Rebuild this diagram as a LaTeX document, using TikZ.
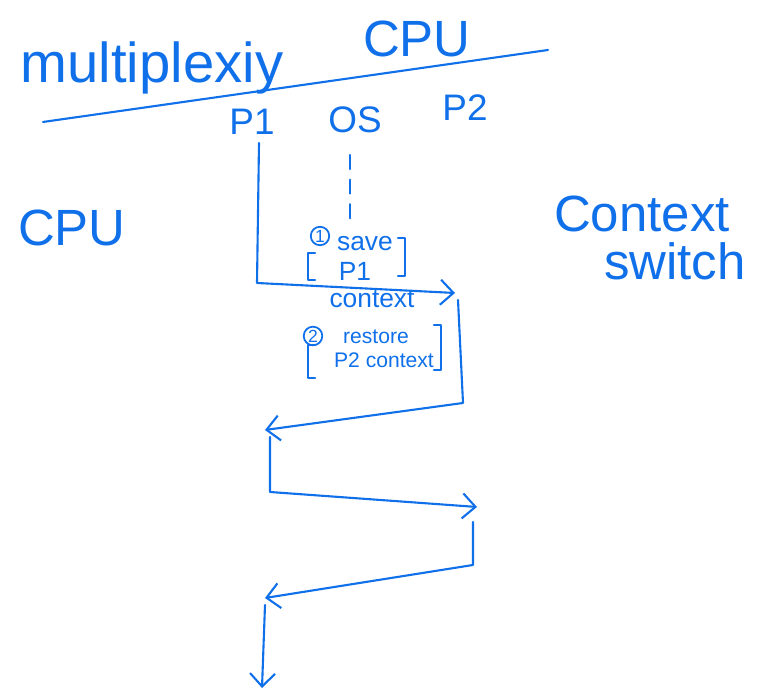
\documentclass[tikz,border=0pt]{standalone}
\usepackage{fontspec}
\setmainfont{Liberation Sans}
\usepackage{tkz-euclide}
\usetikzlibrary{arrows.meta,calc}
\definecolor{InkClr}{RGB}{16,112,234}

\begin{document}
\begin{tikzpicture}[ink/.style={line width=1.2pt,color=InkClr,line cap=round,line join=round},
  tip/.style={-{Straight Barb[length=2.6mm,width=5mm]}},
  big/.style={text=InkClr,font=\fontsize{29}{32}\selectfont},
  mid/.style={text=InkClr,font=\fontsize{21}{24}\selectfont},
  small/.style={text=InkClr,font=\fontsize{15}{17}\selectfont},
  tiny/.style={text=InkClr,font=\fontsize{12}{14}\selectfont,inner sep=1pt},
  num/.style={draw=InkClr,circle,line width=1pt,inner sep=0.6pt,text=InkClr,font=\fontsize{10}{12}\selectfont}]
\useasboundingbox (0,0) rectangle (15.18,13.84);

% points of the time line
\tkzDefPoints{0.86/11.40/L,10.96/12.84/R}
\tkzDefPoints{5.18/10.98/A,5.14/8.18/A1,9.10/7.98/B}
\tkzDefPoints{9.16/7.84/C,9.26/5.78/C1,5.30/5.24/D}
\tkzDefPoints{5.40/5.10/E,5.40/4.00/E1,9.54/3.70/F}
\tkzDefPoints{9.46/3.40/G,9.46/2.54/G1,5.30/1.88/H}
\tkzDefPoints{5.30/1.74/K,5.24/0.08/K1}
\tkzDefPoints{7.00/10.74/S,7.00/9.34/S1}

% headings
\node[big,font=\fontsize{32}{35}\selectfont] (mux) at (3.04,12.48) {multiplexiy};
\node[big] (cpu) at (8.34,13.06) {CPU};
\draw[ink] (L) -- (R);
\node[mid] (pone) at (5.04,11.40) {P1};
\node[mid] (os) at (7.10,11.44) {OS};
\node[mid] (ptwo) at (9.30,11.68) {P2};

\node[big] (cpuleft) at (1.44,9.28) {CPU};
\node[big] (ctx) at (12.84,9.56) {Context};
\node[big] (sw) at (13.50,8.62) {switch};

% switches
\draw[ink,tip] (A) -- (A1) -- (B);
\draw[ink,dashed,dash pattern=on 8pt off 6pt] (S) -- (S1);
\draw[ink,tip] (C) -- (C1) -- (D);
\draw[ink,tip] (E) -- (E1) -- (F);
\draw[ink,tip] (G) -- (G1) -- (H);
\draw[ink,tip] (K) -- (K1);

% step 1
\node[num] (one) at (6.40,9.12) {1};
\node[small] (save) at (7.30,8.96) {save};
\node[small] (savep) at (7.10,8.42) {P1};
\node[small] (savec) at (7.44,7.86) {context};
\draw[ink] (6.30,8.78) -- (6.16,8.78) -- (6.16,8.24) -- (6.30,8.24);
\draw[ink] (7.96,9.08) -- (8.10,9.08) -- (8.10,8.32) -- (7.96,8.32);

% step 2
\node[num] (two) at (6.26,7.12) {2};
\node[tiny] (rest) at (7.52,7.10) {restore};
\node[tiny] (restc) at (7.68,6.64) {P2 context};
\draw[ink] (6.30,6.94) -- (6.16,6.94) -- (6.16,6.28) -- (6.30,6.28);
\draw[ink] (8.68,7.34) -- (8.82,7.34) -- (8.82,6.44) -- (8.68,6.44);

\end{tikzpicture}
\end{document}
